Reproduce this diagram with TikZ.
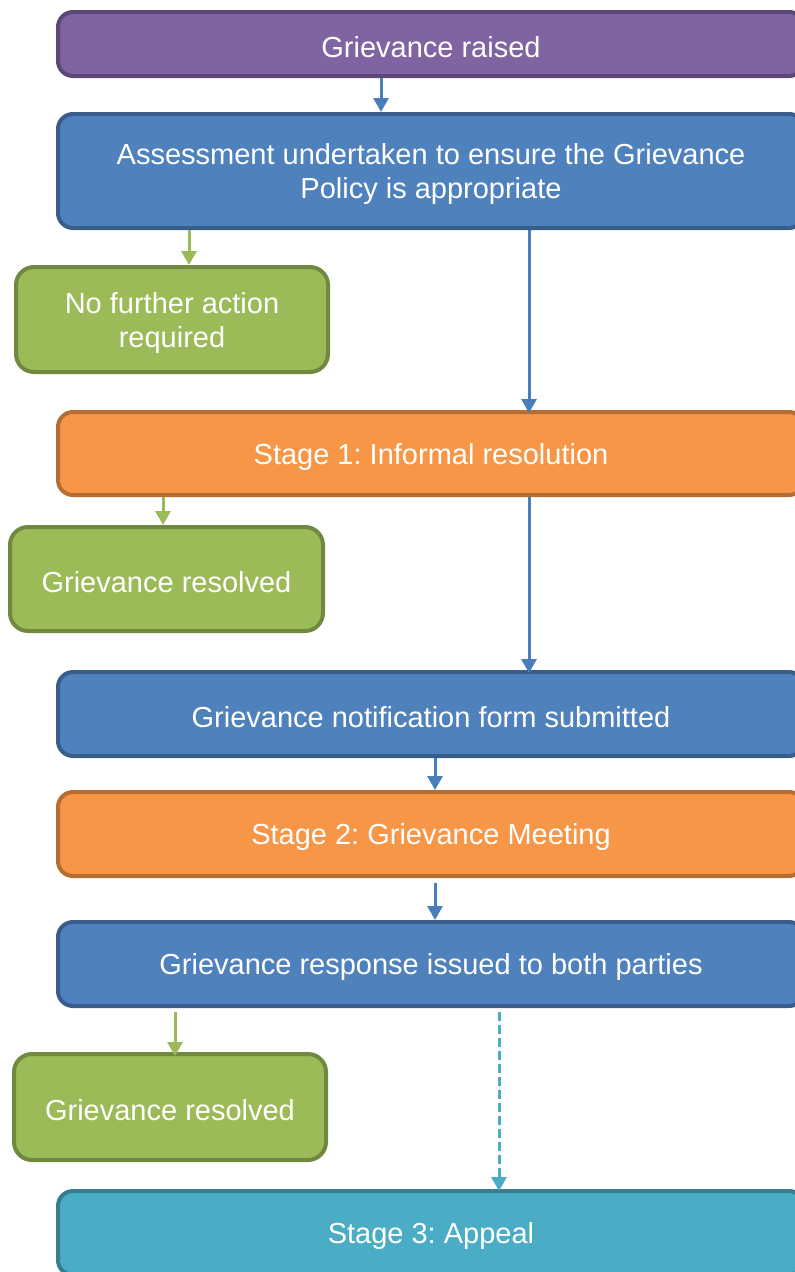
\documentclass[tikz,border=0pt]{standalone}
\usepackage{fontspec}
\setmainfont{Liberation Sans}
\frenchspacing
\usetikzlibrary{arrows.meta}
\definecolor{purF}{HTML}{8064A2}\definecolor{purB}{HTML}{5C4776}
\definecolor{bluF}{HTML}{4F81BD}\definecolor{bluB}{HTML}{385D8A}
\definecolor{grnF}{HTML}{9BBB59}\definecolor{grnB}{HTML}{71893F}
\definecolor{orgF}{HTML}{F79646}\definecolor{orgB}{HTML}{B66D31}
\definecolor{tealF}{HTML}{4BACC6}\definecolor{tealB}{HTML}{357D91}
\definecolor{arrB}{HTML}{4A7EBB}
\tikzset{
  txt/.style={text=white, align=center, font=\fontsize{29}{34}\selectfont,
    inner sep=0pt, yshift=-3pt},
  box/.style={rounded corners=15pt, line width=4pt, inner sep=0pt},
  wide/.style={box, minimum width=746pt},
  side/.style={box, rounded corners=18pt},
  purbox/.style={wide, fill=purF, draw=purB},
  blubox/.style={wide, fill=bluF, draw=bluB},
  orgbox/.style={wide, fill=orgF, draw=orgB},
  tealbox/.style={wide, fill=tealF, draw=tealB},
  grnbox/.style={side, fill=grnF, draw=grnB},
  conn/.style={line width=3pt, -{Triangle[width=15pt,length=14pt]}},
  bluarrow/.style={conn, draw=arrB, fill=arrB},
  grnarrow/.style={conn, draw=grnF, fill=grnF},
  tealarrow/.style={conn, draw=tealF, fill=tealF, dash pattern=on 9pt off 4pt}
}
\begin{document}
\begin{tikzpicture}[x=1pt,y=-1pt]
\useasboundingbox (0,0) rectangle (795,1272);
\clip (0,0) rectangle (795,1272);
\node[purbox, minimum height=64pt, label={[txt]center:Grievance raised}] (raised) at (431,44) {};
\node[blubox, minimum height=114pt, label={[txt]center:{Assessment undertaken to ensure the Grievance\\Policy is appropriate}}] (assess) at (431,171) {};
\node[grnbox, minimum width=312pt, minimum height=105pt, label={[txt]center:{No further action\\required}}] (nfa) at (172,319.5) {};
\node[orgbox, minimum height=83pt, label={[txt]center:Stage 1: Informal resolution}] (s1) at (431,453.5) {};
\node[grnbox, minimum width=313pt, minimum height=104pt, label={[txt]center:Grievance resolved}] (res1) at (166.5,579) {};
\node[blubox, minimum height=84pt, label={[txt]center:Grievance notification form submitted}] (notif) at (431,714) {};
\node[orgbox, minimum height=84pt, label={[txt]center:Stage 2: Grievance Meeting}] (s2) at (431,834) {};
\node[blubox, minimum height=84pt, label={[txt]center:Grievance response issued to both parties}] (resp) at (431,964) {};
\node[grnbox, minimum width=312pt, minimum height=106pt, label={[txt]center:Grievance resolved}] (res2) at (170,1107) {};
\node[tealbox, minimum height=84pt, label={[txt]center:Stage 3: Appeal}] (s3) at (431,1233) {};

\coordinate (xa) at (381,0);
\coordinate (xb) at (189,0);
\coordinate (xc) at (529,0);
\coordinate (xd) at (163,0);
\coordinate (xe) at (435,0);
\coordinate (xf) at (175,0);
\coordinate (xg) at (499,0);

\draw[bluarrow] (raised.south -| xa) -- (assess.north -| xa);
\draw[grnarrow] (assess.south -| xb) -- (nfa.north -| xb);
\draw[bluarrow] (assess.south -| xc) -- ([yshift=-3pt]s1.north -| xc);
\draw[grnarrow] (s1.south -| xd) -- (res1.north -| xd);
\draw[bluarrow] (s1.south -| xc) -- ([yshift=-3pt]notif.north -| xc);
\draw[bluarrow] (notif.south -| xe) -- (s2.north -| xe);
\draw[bluarrow, shorten <=5pt] (s2.south -| xe) -- (resp.north -| xe);
\draw[grnarrow, shorten <=4pt] (resp.south -| xf) -- ([yshift=-4pt]res2.north -| xf);
\draw[tealarrow, shorten <=4pt] (resp.south -| xg) -- ([yshift=-2pt]s3.north -| xg);
\end{tikzpicture}
\end{document}
